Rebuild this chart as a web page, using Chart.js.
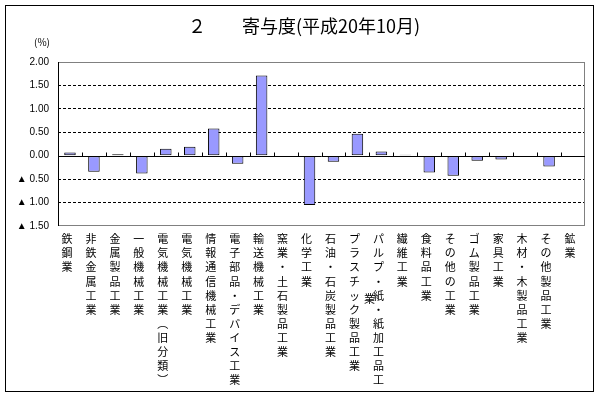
<!DOCTYPE html>
<html>
<head>
<meta charset="utf-8">
<script src="https://cdn.jsdelivr.net/npm/chart.js@4/dist/chart.umd.min.js"></script>
<style>
  html, body { margin: 0; padding: 0; background: #fff; }
  #wrap { width: 600px; height: 397px; }
</style>
</head>
<body>
<div id="wrap"><canvas id="chart" width="600" height="397"></canvas></div>
<script>
const industries = [
  '鉄鋼業', '非鉄金属工業', '金属製品工業', '一般機械工業', '電気機械工業（旧分類）',
  '電気機械工業', '情報通信機械工業', '電子部品・デバイス工業', '輸送機械工業', '窯業・土石製品工業',
  '化学工業', '石油・石炭製品工業', 'プラスチック製品工業', 'パルプ・紙・紙加工品工業', '繊維工業',
  '食料品工業', 'その他の工業', 'ゴム製品工業', '家具工業', '木材・木製品工業',
  'その他製品工業', '鉱業'
];
const contributions = [
  0.07, -0.34, 0.03, -0.38, 0.15,
  0.19, 0.58, -0.17, 1.71, -0.03,
  -1.05, -0.13, 0.47, 0.09, 0.02,
  -0.36, -0.43, -0.11, -0.08, 0.00,
  -0.23, -0.02
];
const yMin = -1.5;
const yMax = 2.0;
const yStep = 0.5;

const title = '２　　寄与度(平成20年10月)';
const unit = '(%)';
const maxLines = 11;

// vertical text: one char per line, brackets turned
const toVertical = s => Array.from(s.replace('（', '︵').replace('）', '︶'));
const columns = industries.map(toVertical);
const tickLabels = columns.map(c => c.slice(0, maxLines));
const overflow = columns.map(c => c.slice(maxLines));

const framePlugin = {
  id: 'frame',
  beforeDraw(chart) {
    const ctx = chart.ctx;
    ctx.save();
    ctx.fillStyle = '#fff';
    ctx.fillRect(0, 0, chart.width, chart.height);
    ctx.restore();
  },
  afterDraw(chart) {
    const { ctx, chartArea: a, scales: { x, y } } = chart;
    ctx.save();
    ctx.lineWidth = 1;

    // plot area border
    ctx.strokeStyle = '#808080';
    ctx.strokeRect(a.left + 0.5, a.top + 0.5, a.width - 1, a.height - 1);
    ctx.strokeStyle = '#000';
    ctx.beginPath();
    ctx.moveTo(a.left + 0.5, a.top);
    ctx.lineTo(a.left + 0.5, a.bottom);
    ctx.stroke();

    // zero line with ticks
    const y0 = Math.round(y.getPixelForValue(0)) + 0.5;
    ctx.beginPath();
    ctx.moveTo(a.left, y0);
    ctx.lineTo(a.right, y0);
    const step = a.width / industries.length;
    for (let k = 1; k < industries.length; k++) {
      const px = Math.round(a.left + k * step) + 0.5;
      ctx.moveTo(px, y0);
      ctx.lineTo(px, y0 - 4);
    }
    ctx.stroke();

    // outer frame
    ctx.strokeStyle = '#000';
    ctx.strokeRect(5.5, 5.5, 588, 386);

    // title and unit
    ctx.fillStyle = '#000';
    ctx.textAlign = 'center';
    ctx.textBaseline = 'middle';
    ctx.font = '18px "Noto Sans CJK JP"';
    ctx.fillText(title, 304, 26);
    ctx.font = '10px "Noto Sans CJK JP"';
    ctx.fillText(unit, 42, 42);

    // label text that did not fit in its column
    ctx.font = '11px "Noto Sans CJK JP"';
    overflow.forEach((chars, i) => {
      chars.forEach((ch, j) => {
        ctx.fillText(ch, x.getPixelForValue(i) - 12, 299 + j * 14);
      });
    });
    ctx.restore();
  }
};

new Chart(document.getElementById('chart'), {
  type: 'bar',
  data: {
    labels: tickLabels,
    datasets: [{
      data: contributions,
      backgroundColor: '#9999FF',
      borderColor: '#000',
      borderWidth: 1,
      borderSkipped: false,
      barPercentage: 0.48,
      categoryPercentage: 1
    }]
  },
  options: {
    responsive: false,
    animation: false,
    layout: { padding: { left: 6, top: 62, right: 15, bottom: 0 } },
    plugins: {
      legend: { display: false },
      tooltip: { enabled: false }
    },
    scales: {
      x: {
        afterFit(scale) { scale.height = 171; },
        grid: { display: false, drawTicks: false },
        border: { display: false },
        ticks: {
          autoSkip: false,
          maxRotation: 0,
          minRotation: 0,
          padding: 6,
          labelOffset: -3,
          color: '#000',
          font: { family: '"Noto Sans CJK JP"', size: 11, lineHeight: '14.1px' }
        }
      },
      y: {
        min: yMin,
        max: yMax,
        afterFit(scale) { scale.width = 52; },
        grid: {
          drawTicks: false,
          color: ctx => {
            const v = ctx.tick ? ctx.tick.value : null;
            return (v === 0 || v === yMax || v === yMin) ? 'rgba(0,0,0,0)' : '#000';
          }
        },
        border: { display: false, dash: [3, 2] },
        ticks: {
          stepSize: yStep,
          padding: 9,
          color: '#000',
          font: { family: '"Liberation Sans", "DejaVu Sans"', size: 10 },
          callback: v => v < 0 ? '▲ ' + Math.abs(v).toFixed(2) : v.toFixed(2)
        }
      }
    }
  },
  plugins: [framePlugin]
});
</script>
</body>
</html>
